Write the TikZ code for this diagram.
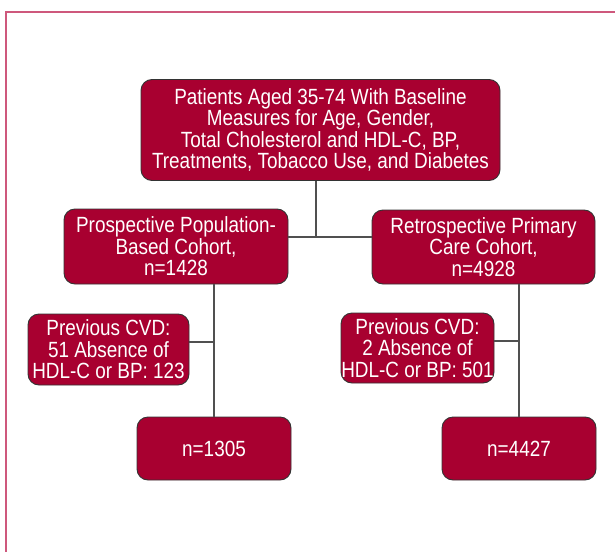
\documentclass[tikz,border=0pt]{standalone}
\usepackage{fontspec}
\setmainfont{Liberation Sans}[FakeStretch=0.86]
\definecolor{boxred}{RGB}{168,0,48}
\definecolor{framepink}{RGB}{206,88,124}
\definecolor{linegray}{RGB}{80,80,80}
\begin{document}
\begin{tikzpicture}[x=1pt,y=-1pt,
  fbox/.style={draw=black!80, line width=0.9pt, fill=boxred, rounded corners=11pt,
    text=white, align=center, inner sep=0pt, font=\fontsize{22}{21.5}\selectfont},
  conn/.style={draw=linegray, line width=1.6pt}]
\useasboundingbox (0,0) rectangle (615,551);
\draw[framepink, line width=2.2pt] (6,560) -- (6,12) -- (620,12);

\node[fbox, minimum width=359pt, minimum height=101pt] (top) at (320.5,130)
  {Patients Aged 35-74 With Baseline\\Measures for Age, Gender,\\Total Cholesterol and HDL-C, BP,\\Treatments, Tobacco Use, and Diabetes};
\node[fbox, minimum width=224pt, minimum height=75pt] (lc) at (176,246.5)
  {Prospective Population-\\Based Cohort,\\n=1428};
\node[fbox, minimum width=223pt, minimum height=74pt] (rc) at (483.5,247)
  {Retrospective Primary\\Care Cohort,\\n=4928};
\node[fbox, minimum width=161pt, minimum height=71pt] (lcvd) at (108.5,349.5)
  {Previous CVD:\\51 Absence of\\HDL-C or BP: 123};
\node[fbox, minimum width=153pt, minimum height=70pt] (rcvd) at (417.5,348)
  {Previous CVD:\\2 Absence of\\HDL-C or BP: 501};
\node[fbox, minimum width=154pt, minimum height=63pt] (ln) at (214,448.5) {n=1305};
\node[fbox, minimum width=154pt, minimum height=63pt] (rn) at (519,448.5) {n=4427};

\coordinate (tj) at (316,237);
\coordinate (lj) at (214,342);
\coordinate (rj) at (519,341);

\draw[conn] (top.south -| tj) -- (tj);
\draw[conn] (lc.east |- tj) -- (rc.west |- tj);
\draw[conn] (lc.south -| ln.north) -- (ln.north);
\draw[conn] (rc.south -| rn.north) -- (rn.north);
\draw[conn] (lcvd.east |- lj) -- (lj);
\draw[conn] (rcvd.east |- rj) -- (rj);
\end{tikzpicture}
\end{document}
